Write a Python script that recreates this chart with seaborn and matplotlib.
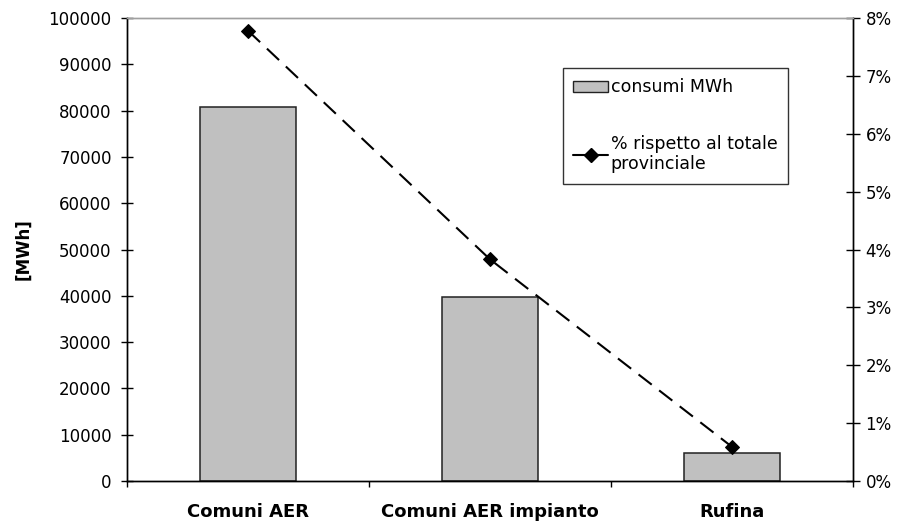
import matplotlib
matplotlib.use("Agg")
import matplotlib.pyplot as plt
import seaborn as sns
import pandas as pd
from matplotlib.patches import Patch
from matplotlib.lines import Line2D
from matplotlib.ticker import FixedLocator, PercentFormatter

categories = ["Comuni AER", "Comuni AER impianto", "Rufina"]
consumi_mwh = [80700, 39700, 6100]
perc_provinciale = [7.78, 3.83, 0.59]
y_ticks = list(range(0, 100001, 10000))
y2_ticks = list(range(0, 9))

sns.set_theme(style="white")
plt.rcParams["font.family"] = ["DejaVu Sans"]
plt.rcParams["text.color"] = "black"
plt.rcParams["axes.labelcolor"] = "black"
plt.rcParams["xtick.color"] = "black"
plt.rcParams["ytick.color"] = "black"

FS = 12

df = pd.DataFrame({"cat": categories, "mwh": consumi_mwh, "perc": perc_provinciale})

fig = plt.figure(figsize=(9.04, 5.25), dpi=100)
ax = fig.add_axes([127 / 904, 1 - 481 / 525, 726 / 904, 463 / 525])

sns.barplot(data=df, x="cat", y="mwh", color="#C0C0C0", width=0.4,
            edgecolor="#222222", linewidth=1.1, saturation=1, ax=ax)
ax.set_xlim(-0.5, 2.5)
ax.set_ylim(0, 100000)
ax.set_yticks(y_ticks)
ax.set_yticklabels([str(v) for v in y_ticks], fontsize=FS)
ax.set_xlabel("")
ax.set_ylabel("[MWh]", fontsize=FS, fontweight="bold", labelpad=12)
for lbl in ax.get_xticklabels():
    lbl.set_fontweight("bold")
    lbl.set_fontsize(13)
ax.tick_params(axis="x", which="major", length=0, pad=16)
ax.xaxis.set_minor_locator(FixedLocator([-0.5, 0.5, 1.5, 2.5]))
ax.tick_params(axis="x", which="minor", length=4.5, direction="out", width=1, color="black", bottom=True)
ax.tick_params(axis="y", length=8, direction="inout", width=1, color="black", left=True, pad=7)

ax2 = ax.twinx()
sns.lineplot(data=df, x="cat", y="perc", ax=ax2, color="black", linestyle=(0, (8, 4.5)),
             linewidth=1.5, marker="D", markersize=7, markeredgecolor="black", sort=False)
ax2.set_ylim(0, 8)
ax2.set_yticks(y2_ticks)
ax2.yaxis.set_major_formatter(PercentFormatter(decimals=0))
ax2.set_ylabel("")
ax2.tick_params(axis="y", length=10, direction="inout", width=1, color="black", right=True, labelsize=FS, pad=4)
ax2.set_xlim(-0.5, 2.5)

for a in (ax, ax2):
    for s in ("left", "right", "bottom"):
        a.spines[s].set_color("black")
        a.spines[s].set_linewidth(1.0)
    a.spines["top"].set_color("#A0A0A0")
    a.spines["top"].set_linewidth(1.0)
    a.grid(False)

handles = [Patch(facecolor="#C0C0C0", edgecolor="#222222", linewidth=1.0),
           Line2D([0], [0], color="black", linewidth=1.5, marker="D", markersize=7)]
labels = ["consumi MWh", "% rispetto al totale\nprovinciale"]
leg = ax2.legend(handles, labels, loc="upper left", bbox_to_anchor=(0.6006, 0.892),
                 borderaxespad=0, fancybox=False, frameon=True, fontsize=12.5,
                 labelspacing=2.2, handlelength=2.0, handleheight=0.6, handletextpad=0.15,
                 borderpad=0.6)
leg.get_frame().set_edgecolor("black")
leg.get_frame().set_linewidth(1.0)

fig.savefig("out.png", dpi=100)
